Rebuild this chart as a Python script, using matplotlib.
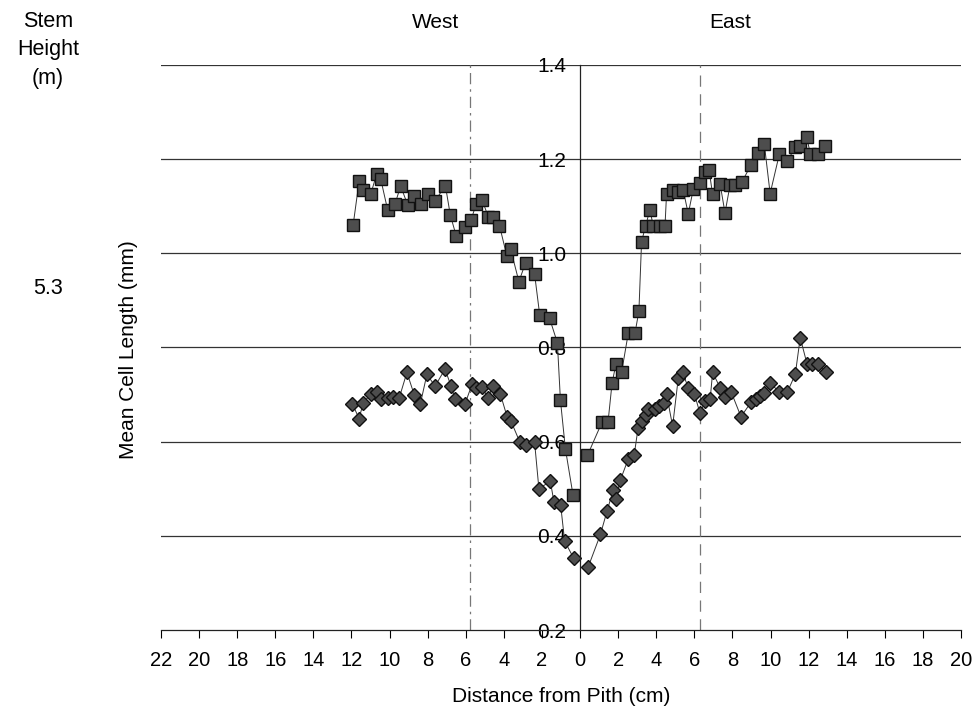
import matplotlib
matplotlib.use("Agg")
import matplotlib.pyplot as plt

plt.rcParams['font.family'] = ['Liberation Sans', 'DejaVu Sans']

# West side (negative = west of pith), squares
west_sq_x = [-11.91, -11.6, -11.42, -10.98, -10.68, -10.46, -10.1, -9.72, -9.42, -9.05,
             -8.7, -8.35, -8.0, -7.6, -7.07, -6.81, -6.5, -6.02, -5.72, -5.46,
             -5.14, -4.81, -4.58, -4.23, -3.84, -3.65, -3.21, -2.86, -2.39, -2.12,
             -1.6, -1.19, -1.03, -0.77, -0.37]
west_sq_y = [1.061, 1.153, 1.134, 1.127, 1.168, 1.157, 1.092, 1.104, 1.143, 1.103,
             1.122, 1.105, 1.125, 1.112, 1.144, 1.081, 1.037, 1.055, 1.071, 1.104,
             1.113, 1.077, 1.077, 1.059, 0.994, 1.01, 0.94, 0.98, 0.957, 0.87,
             0.862, 0.81, 0.688, 0.585, 0.487]

# East side squares
east_sq_x = [0.39, 1.16, 1.47, 1.68, 1.88, 2.18, 2.53, 2.88, 3.09, 3.23,
             3.44, 3.67, 3.84, 4.19, 4.46, 4.54, 4.89, 5.16, 5.42, 5.68,
             5.95, 6.3, 6.56, 6.77, 6.96, 7.35, 7.61, 7.88, 8.14, 8.49,
             8.98, 9.32, 9.67, 9.98, 10.46, 10.89, 11.3, 11.53, 11.89, 12.09,
             12.47, 12.88]
east_sq_y = [0.571, 0.642, 0.642, 0.724, 0.764, 0.747, 0.83, 0.83, 0.877, 1.025,
             1.058, 1.093, 1.058, 1.058, 1.058, 1.125, 1.134, 1.13, 1.134, 1.084,
             1.137, 1.15, 1.173, 1.178, 1.125, 1.148, 1.086, 1.146, 1.146, 1.151,
             1.188, 1.214, 1.233, 1.127, 1.21, 1.196, 1.226, 1.228, 1.248, 1.212,
             1.21, 1.229]

# West side diamonds
west_di_x = [-11.95, -11.6, -11.38, -10.98, -10.68, -10.46, -10.1, -9.8, -9.5, -9.09,
             -8.7, -8.39, -8.04, -7.61, -7.09, -6.77, -6.56, -6.04, -5.67, -5.46,
             -5.14, -4.84, -4.58, -4.19, -3.83, -3.62, -3.17, -2.83, -2.39, -2.16,
             -1.56, -1.37, -1.02, -0.81, -0.33]
west_di_y = [0.68, 0.649, 0.683, 0.701, 0.706, 0.69, 0.692, 0.695, 0.692, 0.747,
             0.699, 0.679, 0.743, 0.718, 0.754, 0.718, 0.69, 0.68, 0.722, 0.713,
             0.717, 0.692, 0.718, 0.702, 0.653, 0.643, 0.60, 0.592, 0.60, 0.50,
             0.516, 0.472, 0.466, 0.389, 0.352]

# East side diamonds
east_di_x = [0.42, 1.07, 1.42, 1.74, 1.88, 2.12, 2.53, 2.84, 3.05, 3.23,
             3.44, 3.58, 3.93, 4.14, 4.42, 4.54, 4.86, 5.16, 5.38, 5.68,
             6.0, 6.3, 6.56, 6.83, 6.96, 7.35, 7.61, 7.93, 8.45, 8.98,
             9.23, 9.46, 9.67, 9.98, 10.46, 10.89, 11.3, 11.56, 11.91, 12.17,
             12.47, 12.91]
east_di_y = [0.333, 0.403, 0.453, 0.497, 0.479, 0.519, 0.563, 0.571, 0.63, 0.644,
             0.656, 0.669, 0.67, 0.676, 0.683, 0.701, 0.633, 0.736, 0.747, 0.715,
             0.702, 0.66, 0.686, 0.69, 0.747, 0.715, 0.694, 0.706, 0.653, 0.684,
             0.69, 0.697, 0.704, 0.724, 0.706, 0.706, 0.743, 0.821, 0.766, 0.766,
             0.766, 0.749]

# boundary lines (cm)
west_bound = -5.8
east_bound = 6.3

x_ticks = list(range(-22, 21, 2))
x_tick_labels = [str(abs(t)) for t in x_ticks]
y_ticks = [0.2, 0.4, 0.6, 0.8, 1.0, 1.2, 1.4]
y_tick_labels = ["0.2", "0.4", "0.6", "0.8", "1.0", "1.2", "1.4"]

fig = plt.figure(figsize=(9.78, 7.12), dpi=100)
ax = fig.add_axes([161 / 978, 82 / 712, 800 / 978, 565 / 712])

# horizontal gridlines
for yv in y_ticks[1:]:
    ax.axhline(yv, color='#333333', lw=0.9, zorder=1)

# boundary lines
ax.plot([west_bound, west_bound], [0.2, 1.4], color='#777777', lw=0.9,
        linestyle=(0, (9, 4, 2, 4)), zorder=1)
ax.plot([east_bound, east_bound], [0.2, 1.4], color='#777777', lw=0.9,
        linestyle=(0, (9, 6)), zorder=1)

line_kw = dict(color='#333333', lw=0.7, zorder=2)
sq_kw = dict(marker='s', markersize=8.5, markerfacecolor='#4d4d4d',
             markeredgecolor='#111111', markeredgewidth=1.0)
di_kw = dict(marker='D', markersize=7.5, markerfacecolor='#4d4d4d',
             markeredgecolor='#111111', markeredgewidth=1.0)

ax.plot(west_sq_x, west_sq_y, **line_kw, **sq_kw)
ax.plot(east_sq_x, east_sq_y, **line_kw, **sq_kw)
ax.plot(west_di_x, west_di_y, **line_kw, **di_kw)
ax.plot(east_di_x, east_di_y, **line_kw, **di_kw)

ax.set_xlim(-22, 20)
ax.set_ylim(0.2, 1.4)

ax.spines['top'].set_visible(False)
ax.spines['right'].set_visible(False)
ax.spines['left'].set_position(('data', 0))
ax.spines['left'].set_color('#222222')
ax.spines['left'].set_linewidth(0.9)
ax.spines['bottom'].set_color('#222222')
ax.spines['bottom'].set_linewidth(0.9)

ax.set_xticks(x_ticks)
ax.set_xticklabels(x_tick_labels, fontsize=14.5)
ax.tick_params(axis='x', direction='out', length=6, width=0.8, pad=9)

ax.set_yticks(y_ticks)
ax.set_yticklabels(y_tick_labels, fontsize=15)
ax.tick_params(axis='y', length=0, pad=10)

# labels
fig.text(561 / 978, 1 - 697 / 712, "Distance from Pith (cm)", fontsize=15,
         ha='center', va='center')
fig.text(128 / 978, 1 - 350 / 712, "Mean Cell Length (mm)", fontsize=15,
         rotation=90, ha='center', va='center')
fig.text(48 / 978, 1 - 50 / 712, "Stem\nHeight\n(m)", fontsize=15.5,
         ha='center', va='center', linespacing=1.45)
fig.text(48 / 978, 1 - 288 / 712, "5.3", fontsize=15.5, ha='center', va='center')
fig.text(436 / 978, 1 - 22 / 712, "West", fontsize=15, ha='center', va='center')
fig.text(730 / 978, 1 - 22 / 712, "East", fontsize=15, ha='center', va='center')

fig.savefig("out.png", dpi=100)
